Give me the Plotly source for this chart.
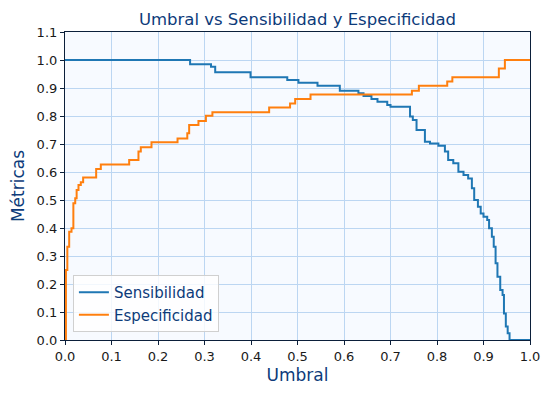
import plotly.graph_objects as go

# Sensibilidad (step curve, value holds until next threshold)
sens_umbral = [0.0, 0.269, 0.314, 0.323, 0.399, 0.478, 0.502, 0.543, 0.591, 0.631,
               0.642, 0.659, 0.672, 0.693, 0.700, 0.742, 0.748, 0.756, 0.774, 0.785,
               0.803, 0.817, 0.824, 0.835, 0.846, 0.857, 0.867, 0.875, 0.880, 0.888,
               0.894, 0.900, 0.908, 0.912, 0.918, 0.922, 0.926, 0.930, 0.936, 0.941,
               0.944, 0.948, 0.952, 0.956, 1.0]
sens_valores = [1.0, 0.985, 0.976, 0.956, 0.938, 0.929, 0.919, 0.908, 0.890, 0.881,
                0.871, 0.861, 0.851, 0.839, 0.833, 0.798, 0.786, 0.750, 0.708, 0.702,
                0.694, 0.673, 0.643, 0.631, 0.601, 0.589, 0.577, 0.542, 0.500, 0.476,
                0.452, 0.440, 0.429, 0.399, 0.369, 0.333, 0.274, 0.226, 0.179, 0.161,
                0.095, 0.048, 0.024, 0.0, 0.0]

# Especificidad
esp_umbral = [0.0, 0.002, 0.005, 0.009, 0.014, 0.018, 0.022, 0.025, 0.029, 0.034,
              0.039, 0.067, 0.077, 0.138, 0.158, 0.163, 0.186, 0.242, 0.263, 0.267,
              0.287, 0.303, 0.317, 0.439, 0.484, 0.495, 0.528, 0.746, 0.761, 0.822,
              0.833, 0.933, 0.946, 1.0]
esp_valores = [0.0, 0.25, 0.333, 0.387, 0.399, 0.488, 0.506, 0.536, 0.554, 0.563,
               0.580, 0.611, 0.627, 0.643, 0.673, 0.688, 0.706, 0.720, 0.738, 0.768,
               0.782, 0.801, 0.813, 0.830, 0.845, 0.861, 0.877, 0.890, 0.908, 0.923,
               0.938, 0.970, 1.0, 1.0]

x_ticks = [round(i * 0.1, 1) for i in range(11)]
y_ticks = [round(i * 0.1, 1) for i in range(12)]

navy = "#0d3b7a"
grid = "#bcd6f2"
font = "DejaVu Sans"

W, H = 543, 389
L, R, T, B = 57, 21, 24, 57

fig = go.Figure()
fig.add_trace(go.Scatter(x=sens_umbral, y=sens_valores, mode="lines", name="Sensibilidad",
                         line=dict(color="#1f77b4", width=2, shape="hv")))
fig.add_trace(go.Scatter(x=esp_umbral, y=esp_valores, mode="lines", name="Especificidad",
                         line=dict(color="#ff7f0e", width=2, shape="hv")))

axis_common = dict(showline=True, linecolor="#0b1f3a", linewidth=1.2, mirror=True,
                   ticks="outside", ticklen=4, tickcolor="#0b1f3a",
                   showgrid=True, gridcolor=grid, gridwidth=1.2, zeroline=False,
                   automargin=False,
                   tickfont=dict(family=font, size=13, color="#1a1a1a"))

fig.update_layout(
    width=W, height=H,
    margin=dict(l=L, r=R, t=T, b=B, autoexpand=False),
    paper_bgcolor="white", plot_bgcolor="#f7faff",
    title=dict(text="Umbral vs Sensibilidad y Especificidad",
               x=(L + (W - L - R) / 2) / W, xanchor="center",
               y=1 - 11 / H, yanchor="middle",
               font=dict(family=font, size=16.5, color=navy)),
    xaxis=dict(range=[0, 1], tickvals=x_ticks, ticktext=[f"{v:.1f}" for v in x_ticks],
               title=dict(text="Umbral", font=dict(family=font, size=17, color=navy), standoff=6),
               **axis_common),
    yaxis=dict(range=[0, 1.1], tickvals=y_ticks, ticktext=[f"{v:.1f}" for v in y_ticks],
               title=dict(text="Métricas", font=dict(family=font, size=17, color=navy), standoff=10),
               **axis_common),
    legend=dict(x=0.017, y=0.026, xanchor="left", yanchor="bottom",
                bgcolor="rgba(255,255,255,0.8)", bordercolor="#d0d0d0", borderwidth=1,
                itemwidth=30,
                font=dict(family=font, size=15, color=navy)),
    showlegend=True,
)

fig.write_html("out.html")
